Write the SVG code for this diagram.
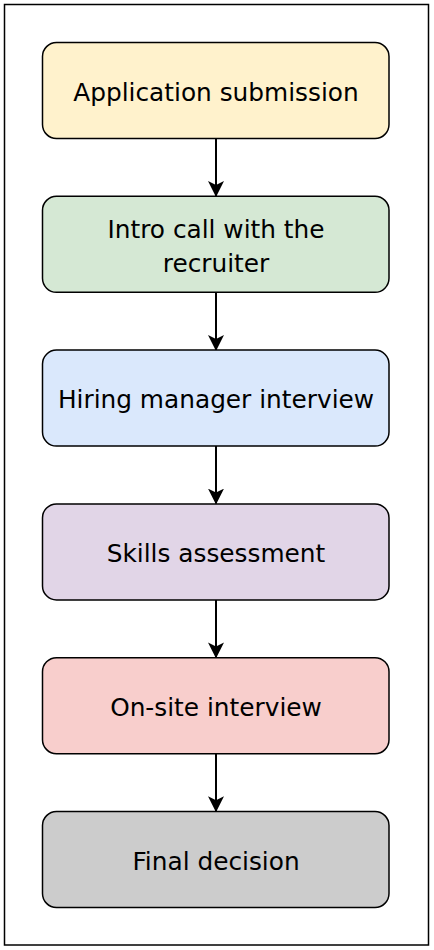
<svg xmlns="http://www.w3.org/2000/svg" width="434" height="950" viewBox="0 0 434 950">
<defs>
<style>
.node rect{stroke:#000;stroke-width:1.5}
.node text{font-family:"DejaVu Sans",Verdana,sans-serif;font-size:24.8px;fill:#000;text-anchor:middle}
.edge{stroke:#000;stroke-width:2;fill:none}
</style>
<marker id="arr" viewBox="0 0 16 16" refX="15" refY="8" markerWidth="16" markerHeight="16" markerUnits="userSpaceOnUse" orient="auto">
<path d="M0,0 L16,8 L0,16 L4,8 Z" fill="#000"/>
</marker>
</defs>
<rect x="4.5" y="4.5" width="424" height="940.5" fill="#fff" stroke="#000" stroke-width="1.5"/>
<g id="connectors">
<line class="edge" x1="216" y1="138.5" x2="216" y2="196" marker-end="url(#arr)"/>
<line class="edge" x1="216" y1="292.3" x2="216" y2="350" marker-end="url(#arr)"/>
<line class="edge" x1="216" y1="446.1" x2="216" y2="503.6" marker-end="url(#arr)"/>
<line class="edge" x1="216" y1="599.9" x2="216" y2="657.4" marker-end="url(#arr)"/>
<line class="edge" x1="216" y1="753.7" x2="216" y2="811.2" marker-end="url(#arr)"/>
</g>
<g id="n1" class="node"><rect x="42.5" y="42.5" width="346.5" height="96" rx="14" fill="#fff2cc"/><text x="216" y="100.5">Application submission</text></g>
<g id="n2" class="node"><rect x="42.5" y="196.3" width="346.5" height="96" rx="14" fill="#d5e8d4"/><text x="216" y="238">Intro call with the</text><text x="216" y="272">recruiter</text></g>
<g id="n3" class="node"><rect x="42.5" y="350.1" width="346.5" height="96" rx="14" fill="#dae8fc"/><text x="216" y="408.3">Hiring manager interview</text></g>
<g id="n4" class="node"><rect x="42.5" y="503.9" width="346.5" height="96" rx="14" fill="#e1d5e7"/><text x="216" y="562.1">Skills assessment</text></g>
<g id="n5" class="node"><rect x="42.5" y="657.7" width="346.5" height="96" rx="14" fill="#f8cecc"/><text x="216" y="715.9">On-site interview</text></g>
<g id="n6" class="node"><rect x="42.5" y="811.5" width="346.5" height="96" rx="14" fill="#cccccc"/><text x="216" y="869.7">Final decision</text></g>
</svg>
